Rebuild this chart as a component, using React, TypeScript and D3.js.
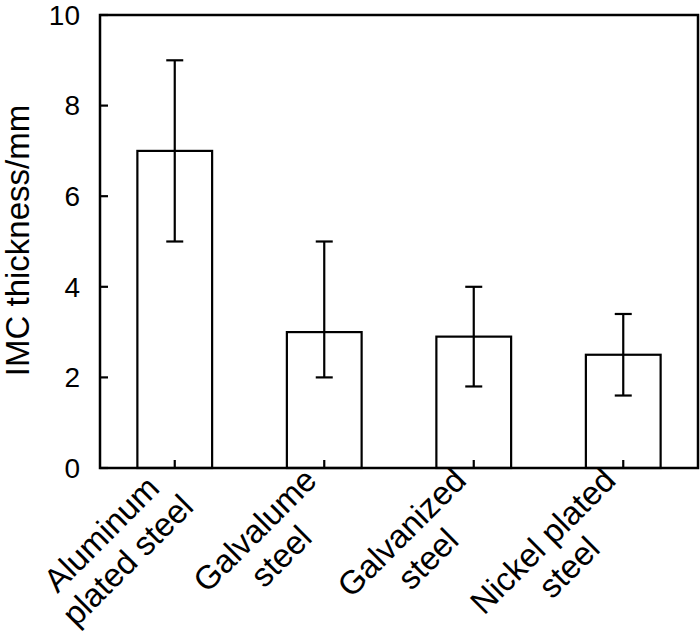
import React, { useEffect, useRef } from 'react';
import * as d3 from 'd3';

// IMC thickness by coating type
const categories = ['Aluminum plated steel', 'Galvalume steel', 'Galvanized steel', 'Nickel plated steel'];
const labelLines = [
  ['Aluminum', 'plated steel'],
  ['Galvalume', 'steel'],
  ['Galvanized', 'steel'],
  ['Nickel plated', 'steel'],
];
const means = [7.0, 3.0, 2.9, 2.5];
const lowErr = [5.0, 2.0, 1.8, 1.6];
const highErr = [9.0, 5.0, 4.0, 3.4];
const yTicks = [0, 2, 4, 6, 8, 10];

const W = 700;
const H = 632;
const FONT = "Arial, 'Liberation Sans', sans-serif";

const App: React.FC = () => {
  const svgRef = useRef<SVGSVGElement>(null);

  useEffect(() => {
    if (!svgRef.current) return;
    const svg = d3.select(svgRef.current);
    svg.selectAll('*').remove();

    const left = 100, right = 698, top = 15, bottom = 468;

    const x = d3.scaleBand<string>()
      .domain(categories)
      .range([left, right])
      .paddingInner(0.5)
      .paddingOuter(0.25);
    const y = d3.scaleLinear().domain([0, 10]).range([bottom, top]);

    const g = svg.append('g');

    // bars
    g.selectAll('rect.bar')
      .data(means)
      .enter()
      .append('rect')
      .attr('class', 'bar')
      .attr('x', (_, i) => x(categories[i])!)
      .attr('y', d => y(d))
      .attr('width', x.bandwidth())
      .attr('height', d => y(0) - y(d))
      .attr('fill', '#fff')
      .attr('stroke', '#000')
      .attr('stroke-width', 2.2);

    // error bars
    const cap = 8.5;
    categories.forEach((c, i) => {
      const cx = x(c)! + x.bandwidth() / 2;
      g.append('line')
        .attr('x1', cx).attr('x2', cx)
        .attr('y1', y(lowErr[i])).attr('y2', y(highErr[i]))
        .attr('stroke', '#000').attr('stroke-width', 2.2);
      [lowErr[i], highErr[i]].forEach(v => {
        g.append('line')
          .attr('x1', cx - cap).attr('x2', cx + cap)
          .attr('y1', y(v)).attr('y2', y(v))
          .attr('stroke', '#000').attr('stroke-width', 2.2);
      });
      // x tick (inward)
      g.append('line')
        .attr('x1', cx).attr('x2', cx)
        .attr('y1', bottom).attr('y2', bottom - 8)
        .attr('stroke', '#000').attr('stroke-width', 2.2);
    });

    // frame
    g.append('rect')
      .attr('x', left).attr('y', top)
      .attr('width', right - left).attr('height', bottom - top)
      .attr('fill', 'none')
      .attr('stroke', '#000')
      .attr('stroke-width', 2.5);

    // y ticks and labels
    yTicks.forEach(t => {
      g.append('line')
        .attr('x1', left).attr('x2', left + 8)
        .attr('y1', y(t)).attr('y2', y(t))
        .attr('stroke', '#000').attr('stroke-width', 2.2);
      g.append('text')
        .attr('x', 80)
        .attr('y', y(t))
        .attr('dy', '0.35em')
        .attr('text-anchor', 'end')
        .attr('font-family', FONT)
        .attr('font-size', 28)
        .text(t);
    });

    // y axis title
    g.append('text')
      .attr('transform', `translate(29,${(103 + 378) / 2}) rotate(-90)`)
      .attr('text-anchor', 'middle')
      .attr('font-family', FONT)
      .attr('font-size', 33)
      .text('IMC thickness/mm');

    // x labels, rotated -45, centred lines
    const lh = 37;
    categories.forEach((c, i) => {
      const cx = x(c)! + x.bandwidth() / 2;
      const lg = g.append('g')
        .attr('transform', `translate(${cx},${bottom + 20}) rotate(-45)`);
      const texts = labelLines[i].map((s, j) =>
        lg.append('text')
          .attr('y', -8 + j * lh)
          .attr('text-anchor', 'middle')
          .attr('font-family', FONT)
          .attr('font-size', 33)
          .text(s)
      );
      const maxW = d3.max(texts, t => (t.node() as SVGTextElement).getComputedTextLength()) || 0;
      texts.forEach(t => t.attr('x', -maxW / 2));
    });
  }, []);

  return (
    <div style={{ position: 'absolute', left: 0, top: 0, background: '#fff' }}>
      <svg ref={svgRef} width={W} height={H} style={{ display: 'block' }} />
    </div>
  );
};

export default App;
